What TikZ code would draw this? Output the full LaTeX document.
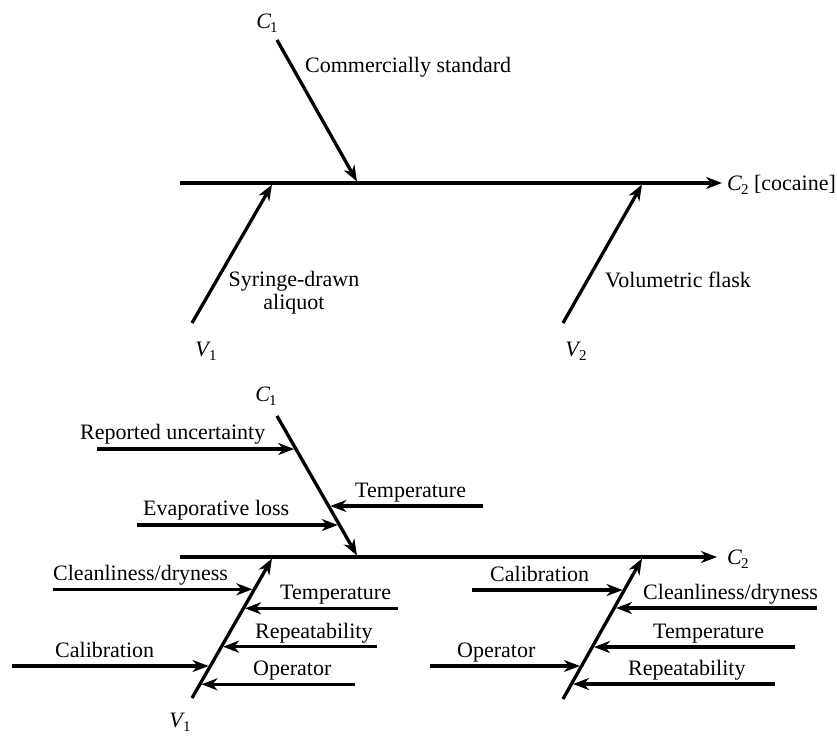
\documentclass[tikz,border=0pt]{standalone}
\usepackage{fontspec}
\setmainfont{Liberation Serif}
\usetikzlibrary{arrows.meta}
% italic symbol with a lowered upright index
\newcommand{\symsub}[3][-1pt]{\textit{#2}\kern#1\raisebox{-4.5pt}{\fontsize{15}{15}\selectfont #3}}
\begin{document}
\begin{tikzpicture}[x=1pt,y=-1pt,
  lbl/.style={inner sep=0pt,font=\fontsize{22}{23}\selectfont},
  bone/.style={line width=3.3pt,-{Stealth[length=16pt,width=12pt,inset=5pt]}},
  rib/.style={line width=3.3pt,-{Stealth[length=16pt,width=12pt,inset=5pt]}}]
\useasboundingbox (0,0) rectangle (837,736);

%% ---------- upper diagram: main causes only ----------
\coordinate (ta) at (180,183);
\coordinate (tb) at (722,183);
\draw[bone] (ta) -- (tb);
\node[lbl,anchor=base west] (tc2) at (727,190) {\symsub{C}{2} [cocaine]};

\node[lbl,anchor=base] (tc1) at (267,28) {\symsub{C}{1}};
\coordinate (tc1a) at (277,40);
\coordinate (tc1b) at (357,181.5);
\draw[bone] (tc1a) -- (tc1b);
\node[lbl,anchor=base west] (tcs) at (305,72) {Commercially standard};

\coordinate (tv1a) at (192,323);
\coordinate (tv1b) at (272,184.5);
\draw[bone] (tv1a) -- (tv1b);
\node[lbl,anchor=base] (tv1) at (206,356) {\symsub[-2pt]{V}{1}};
\node[lbl,align=center] (tsa) at (294,293) {Syringe-drawn\\aliquot};

\coordinate (tv2a) at (563,323);
\coordinate (tv2b) at (642,184.5);
\draw[bone] (tv2a) -- (tv2b);
\node[lbl,anchor=base] (tv2) at (576,356) {\symsub[-2pt]{V}{2}};
\node[lbl,anchor=base west] (tvf) at (605,287) {Volumetric flask};

%% ---------- lower diagram: with contributing factors ----------
\coordinate (ba) at (180,557);
\coordinate (bb) at (717,557);
\draw[bone] (ba) -- (bb);
\node[lbl,anchor=base west] (bc2) at (727,564) {\symsub{C}{2}};

% C1 branch
\node[lbl,anchor=base] (bc1) at (266,401) {\symsub{C}{1}};
\coordinate (bc1a) at (277,416);
\coordinate (bc1b) at (357,555.5);
\draw[bone] (bc1a) -- (bc1b);

\coordinate (r1a) at (97,449);   \coordinate (r1b) at (294.2,449);
\coordinate (r2a) at (483,506);  \coordinate (r2b) at (330.3,506);
\coordinate (r3a) at (137,525);  \coordinate (r3b) at (337.8,525);
\draw[rib] (r1a) -- (r1b);
\draw[rib] (r2a) -- (r2b);
\draw[rib] (r3a) -- (r3b);
\node[lbl,anchor=base west] (l1) at (80,439) {Reported uncertainty};
\node[lbl,anchor=base west] (l2) at (355,497) {Temperature};
\node[lbl,anchor=base west] (l3) at (143,515) {Evaporative loss};

% V1 branch
\coordinate (bv1a) at (192,698);
\coordinate (bv1b) at (272,558.5);
\draw[bone] (bv1a) -- (bv1b);
\node[lbl,anchor=base] (bv1) at (180,727) {\symsub[-2pt]{V}{1}};

\coordinate (s1a) at (53,589.3);  \coordinate (s1b) at (252.4,589.3);
\coordinate (s2a) at (398,608.3); \coordinate (s2b) at (245,608.3);
\coordinate (s3a) at (377,646.7); \coordinate (s3b) at (223,646.7);
\coordinate (s4a) at (12,666);    \coordinate (s4b) at (208.6,666);
\coordinate (s5a) at (355,684.3); \coordinate (s5b) at (201.5,684.3);
\draw[rib] (s1a) -- (s1b);
\draw[rib] (s2a) -- (s2b);
\draw[rib] (s3a) -- (s3b);
\draw[rib] (s4a) -- (s4b);
\draw[rib] (s5a) -- (s5b);
\node[lbl,anchor=base west] (m1) at (53,580) {Cleanliness/dryness};
\node[lbl,anchor=base west] (m2) at (280,599) {Temperature};
\node[lbl,anchor=base west] (m3) at (255,638) {Repeatability};
\node[lbl,anchor=base west] (m4) at (55,657) {Calibration};
\node[lbl,anchor=base west] (m5) at (253,675) {Operator};

% V2 branch
\coordinate (bv2a) at (563,699);
\coordinate (bv2b) at (642,558.5);
\draw[bone] (bv2a) -- (bv2b);

\coordinate (u1a) at (472,590);   \coordinate (u1b) at (622.6,590);
\coordinate (u2a) at (817,608);   \coordinate (u2b) at (616,608);
\coordinate (u3a) at (795,647);   \coordinate (u3b) at (594,647);
\coordinate (u4a) at (430,666);   \coordinate (u4b) at (580,666);
\coordinate (u5a) at (775,684);   \coordinate (u5b) at (573,684);
\draw[rib] (u1a) -- (u1b);
\draw[rib] (u2a) -- (u2b);
\draw[rib] (u3a) -- (u3b);
\draw[rib] (u4a) -- (u4b);
\draw[rib] (u5a) -- (u5b);
\node[lbl,anchor=base west] (n1) at (490,581) {Calibration};
\node[lbl,anchor=base west] (n2) at (643,599) {Cleanliness/dryness};
\node[lbl,anchor=base west] (n3) at (653,638) {Temperature};
\node[lbl,anchor=base west] (n4) at (457,657) {Operator};
\node[lbl,anchor=base west] (n5) at (628,675) {Repeatability};
\end{tikzpicture}
\end{document}
